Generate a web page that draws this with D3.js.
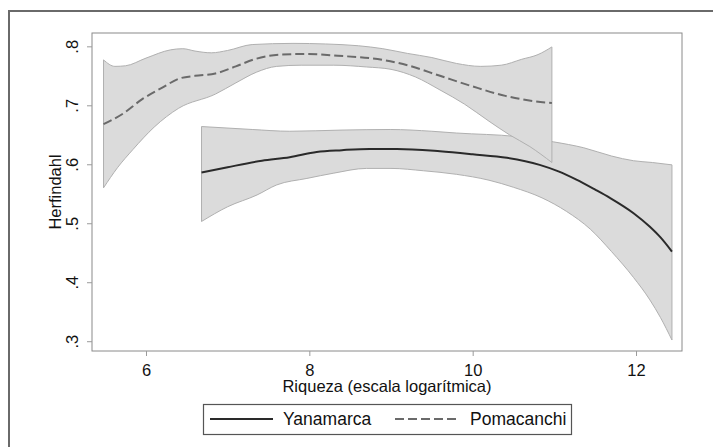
<!DOCTYPE html>
<html>
<head>
<meta charset="utf-8">
<script src="https://cdn.jsdelivr.net/npm/d3@7"></script>
<style>
html,body{margin:0;padding:0;background:#fff;}
svg{display:block;}
text{font-family:"Liberation Sans",Arial,sans-serif;fill:#111;}
</style>
</head>
<body>
<svg id="chart" width="713" height="447"></svg>
<script>
// ---- data ----
const yanamarcaX     = [6.68, 7.0, 7.42, 7.76, 8.09, 8.4, 8.74, 9.07, 9.6, 10.0, 10.42, 10.82, 11.05, 11.27, 11.5, 11.68, 11.97, 12.17, 12.3, 12.44];
const yanamarcaFit   = [0.586, 0.595, 0.606, 0.612, 0.621, 0.624, 0.626, 0.626, 0.622, 0.617, 0.611, 0.599, 0.588, 0.574, 0.557, 0.543, 0.517, 0.494, 0.476, 0.452];
const yanamarcaUpX   = [6.68, 7.3, 7.76, 8.4, 8.99, 9.5, 9.8, 10.54, 10.99, 11.36, 11.7, 11.97, 12.2, 12.44];
const yanamarcaUp    = [0.664, 0.659, 0.656, 0.658, 0.659, 0.656, 0.653, 0.647, 0.638, 0.628, 0.614, 0.606, 0.603, 0.599];
const yanamarcaLoX   = [6.68, 7.0, 7.36, 7.6, 7.97, 8.3, 8.7, 9.0, 9.4, 9.8, 10.2, 10.5, 10.85, 11.15, 11.44, 11.7, 11.97, 12.17, 12.3, 12.44];
const yanamarcaLo    = [0.503, 0.528, 0.548, 0.565, 0.576, 0.585, 0.593, 0.593, 0.589, 0.583, 0.573, 0.561, 0.543, 0.520, 0.490, 0.452, 0.408, 0.370, 0.340, 0.302];

const pomacanchiX    = [5.48, 5.72, 5.95, 6.2, 6.4, 6.6, 6.85, 7.1, 7.35, 7.65, 7.95, 8.35, 8.9, 9.2, 9.6, 10.0, 10.4, 10.75, 10.97];
const pomacanchiFit  = [0.668, 0.686, 0.710, 0.730, 0.745, 0.750, 0.754, 0.766, 0.779, 0.786, 0.787, 0.784, 0.777, 0.768, 0.750, 0.732, 0.716, 0.707, 0.704];
const pomacanchiUpX  = [5.48, 5.62, 5.75, 6.0, 6.3, 6.45, 6.6, 6.8, 7.0, 7.3, 7.8, 8.2, 8.6, 8.9, 9.2, 9.5, 9.8, 10.1, 10.35, 10.6, 10.8, 10.97];
const pomacanchiUp   = [0.777, 0.766, 0.767, 0.780, 0.794, 0.796, 0.792, 0.789, 0.793, 0.803, 0.805, 0.804, 0.801, 0.796, 0.788, 0.781, 0.771, 0.766, 0.768, 0.778, 0.786, 0.799];
const pomacanchiLoX  = [5.48, 5.65, 5.84, 6.1, 6.4, 6.85, 7.1, 7.35, 7.6, 7.9, 8.3, 8.7, 9.0, 9.3, 9.6, 9.9, 10.2, 10.45, 10.7, 10.97];
const pomacanchiLo   = [0.560, 0.594, 0.625, 0.663, 0.695, 0.719, 0.738, 0.756, 0.766, 0.768, 0.768, 0.765, 0.761, 0.748, 0.726, 0.702, 0.673, 0.650, 0.630, 0.603];

const xTicks = [6, 8, 10, 12];
const yTicks = [0.3, 0.4, 0.5, 0.6, 0.7, 0.8];
const yTickLabels = [".3", ".4", ".5", ".6", ".7", ".8"];
const seriesNames = ["Yanamarca", "Pomacanchi"];
const xTitle = "Riqueza (escala logarítmica)";
const yTitle = "Herfindahl";

// ---- layout ----
const svg = d3.select("#chart");
const plot = {left: 92, right: 682, top: 33, bottom: 351};

const x = d3.scaleLinear().domain([5.339, 12.563]).range([plot.left, plot.right]);
const y = d3.scaleLinear().domain([0.2834, 0.8226]).range([plot.bottom, plot.top]);

// outer frame (top + left only visible)
svg.append("line").attr("x1", 9).attr("x2", 713).attr("y1", 11).attr("y2", 11)
  .attr("stroke", "#6a6a6a").attr("stroke-width", 2);
svg.append("line").attr("x1", 9).attr("x2", 9).attr("y1", 10).attr("y2", 447)
  .attr("stroke", "#6a6a6a").attr("stroke-width", 2);

// plot region frame
svg.append("rect").attr("x", plot.left).attr("y", plot.top)
  .attr("width", plot.right - plot.left).attr("height", plot.bottom - plot.top)
  .attr("fill", "#fff").attr("stroke", "#8a8a8a").attr("stroke-width", 1);

function band(xsU, up, xsL, lo) {
  const lineGen = d3.line().curve(d3.curveMonotoneX);
  const upper = xsU.map((v, i) => [x(v), y(up[i])]);
  const lower = xsL.map((v, i) => [x(v), y(lo[i])]).reverse();
  const a = lineGen(upper);
  const b = lineGen(lower);
  return a + "L" + b.slice(1) + "Z";
}

const bandFill = "#dbdbdb", bandStroke = "#b0b0b0";
const g = svg.append("g");

// Yanamarca CI band
g.append("path").attr("d", band(yanamarcaUpX, yanamarcaUp, yanamarcaLoX, yanamarcaLo))
  .attr("fill", bandFill).attr("stroke", bandStroke).attr("stroke-width", 1);
// Yanamarca fit
g.append("path")
  .attr("d", d3.line().curve(d3.curveMonotoneX)(yanamarcaX.map((v, i) => [x(v), y(yanamarcaFit[i])])))
  .attr("fill", "none").attr("stroke", "#2a2a2a").attr("stroke-width", 2);

// Pomacanchi CI band
g.append("path").attr("d", band(pomacanchiUpX, pomacanchiUp, pomacanchiLoX, pomacanchiLo))
  .attr("fill", bandFill).attr("stroke", bandStroke).attr("stroke-width", 1);
// Pomacanchi fit
g.append("path")
  .attr("d", d3.line().curve(d3.curveMonotoneX)(pomacanchiX.map((v, i) => [x(v), y(pomacanchiFit[i])])))
  .attr("fill", "none").attr("stroke", "#6a6a6a").attr("stroke-width", 2)
  .attr("stroke-dasharray", "9,4");

// ---- axes ----
const xAxis = d3.axisBottom(x).tickValues(xTicks).tickSize(5).tickPadding(4).tickFormat(d3.format("d"));
const gx = svg.append("g").attr("transform", `translate(0,${plot.bottom})`).call(xAxis);
gx.select(".domain").remove();
gx.selectAll(".tick line").attr("stroke", "#9a9a9a");
gx.selectAll(".tick text").attr("font-size", 16.5).attr("fill", "#111")
  .attr("font-family", "'Liberation Sans', Arial, sans-serif").attr("dy", "0.95em");

const yAxis = d3.axisLeft(y).tickValues(yTicks).tickSize(5).tickFormat((d, i) => yTickLabels[i]);
const gy = svg.append("g").attr("transform", `translate(${plot.left},0)`).call(yAxis);
gy.select(".domain").remove();
gy.selectAll(".tick line").attr("stroke", "#9a9a9a");
gy.selectAll(".tick text")
  .attr("font-size", 16.5).attr("fill", "#111")
  .attr("font-family", "'Liberation Sans', Arial, sans-serif")
  .attr("x", null).attr("dy", null)
  .attr("text-anchor", "middle")
  .attr("transform", "translate(-14,0) rotate(-90)");

// axis titles
svg.append("text").attr("x", (plot.left + plot.right) / 2).attr("y", 392)
  .attr("text-anchor", "middle").attr("font-size", 16.5).text(xTitle);
svg.append("text").attr("transform", `translate(61,${(plot.top + plot.bottom) / 2}) rotate(-90)`)
  .attr("text-anchor", "middle").attr("font-size", 16.5).text(yTitle);

// ---- legend ----
const lg = svg.append("g");
lg.append("rect").attr("x", 203.5).attr("y", 404.5).attr("width", 368).attr("height", 30)
  .attr("fill", "#fff").attr("stroke", "#555").attr("stroke-width", 1.2);
lg.append("line").attr("x1", 210).attr("x2", 273).attr("y1", 419).attr("y2", 419)
  .attr("stroke", "#2a2a2a").attr("stroke-width", 2);
lg.append("text").attr("x", 283).attr("y", 425).attr("font-size", 17.5).text(seriesNames[0]);
lg.append("line").attr("x1", 395).attr("x2", 458).attr("y1", 419).attr("y2", 419)
  .attr("stroke", "#6a6a6a").attr("stroke-width", 2).attr("stroke-dasharray", "9,4");
lg.append("text").attr("x", 470).attr("y", 425).attr("font-size", 17.5).text(seriesNames[1]);
</script>
</body>
</html>
